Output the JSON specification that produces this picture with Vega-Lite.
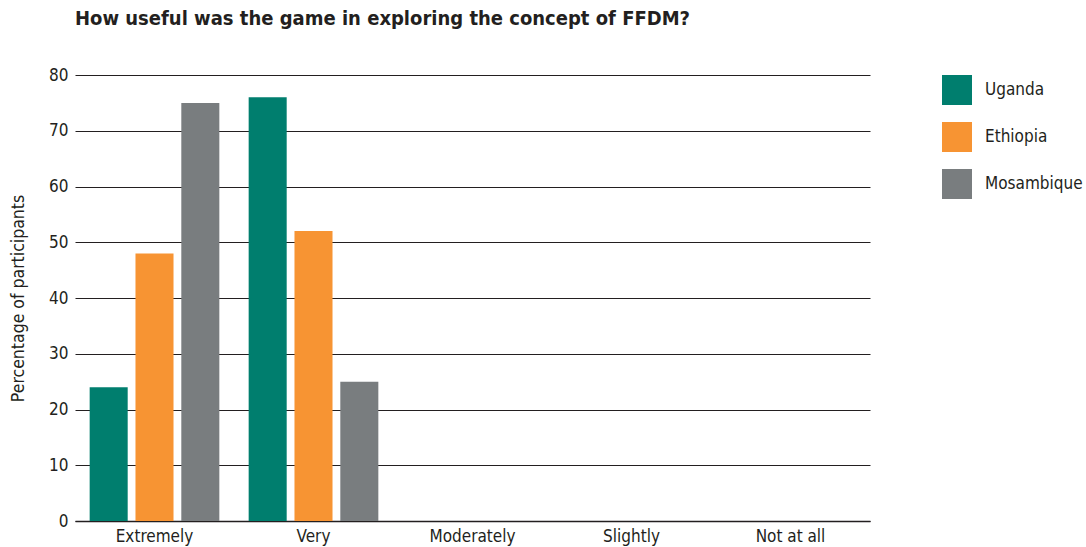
{
  "$schema": "https://vega.github.io/schema/vega-lite/v6.json",
  "autosize": {"type": "none"},
  "padding": {"left": 75, "top": 75, "right": 216, "bottom": 26},
  "width": 795,
  "height": 446,
  "background": "white",
  "title": {
    "text": "How useful was the game in exploring the concept of FFDM?",
    "anchor": "start",
    "frame": "group",
    "font": "DejaVu Sans Condensed, Liberation Sans Narrow, Roboto",
    "fontSize": 20,
    "fontWeight": "bold",
    "color": "#231f20",
    "offset": 37
  },
  "data": {
    "values": [
      {"usefulness": "Extremely", "country": "Uganda", "pct": 24},
      {"usefulness": "Extremely", "country": "Ethiopia", "pct": 48},
      {"usefulness": "Extremely", "country": "Mosambique", "pct": 75},
      {"usefulness": "Very", "country": "Uganda", "pct": 76},
      {"usefulness": "Very", "country": "Ethiopia", "pct": 52},
      {"usefulness": "Very", "country": "Mosambique", "pct": 25},
      {"usefulness": "Moderately", "country": "Uganda", "pct": 0},
      {"usefulness": "Moderately", "country": "Ethiopia", "pct": 0},
      {"usefulness": "Moderately", "country": "Mosambique", "pct": 0},
      {"usefulness": "Slightly", "country": "Uganda", "pct": 0},
      {"usefulness": "Slightly", "country": "Ethiopia", "pct": 0},
      {"usefulness": "Slightly", "country": "Mosambique", "pct": 0},
      {"usefulness": "Not at all", "country": "Uganda", "pct": 0},
      {"usefulness": "Not at all", "country": "Ethiopia", "pct": 0},
      {"usefulness": "Not at all", "country": "Mosambique", "pct": 0}
    ]
  },
  "mark": {"type": "bar"},
  "encoding": {
    "x": {
      "field": "usefulness",
      "type": "nominal",
      "sort": ["Extremely", "Very", "Moderately", "Slightly", "Not at all"],
      "scale": {"paddingInner": 0, "paddingOuter": 0},
      "axis": {
        "title": null,
        "labelAngle": 0,
        "labelFont": "DejaVu Sans Condensed, Liberation Sans Narrow, Roboto",
        "labelFontSize": 17,
        "labelColor": "#231f20",
        "labelPadding": 7,
        "ticks": false,
        "domain": true,
        "domainColor": "#231f20",
        "domainWidth": 1.5,
        "grid": false
      }
    },
    "xOffset": {
      "field": "country",
      "type": "nominal",
      "sort": ["Uganda", "Ethiopia", "Mosambique"],
      "scale": {"paddingInner": 0.17, "paddingOuter": 0.32}
    },
    "y": {
      "field": "pct",
      "type": "quantitative",
      "scale": {"domain": [0, 80]},
      "axis": {
        "title": "Percentage of participants",
        "titleFont": "DejaVu Sans Condensed, Liberation Sans Narrow, Roboto",
        "titleFontSize": 17.5,
        "titleFontWeight": "normal",
        "titleColor": "#231f20",
        "titlePadding": 21,
        "values": [0, 10, 20, 30, 40, 50, 60, 70, 80],
        "labelFont": "DejaVu Sans Condensed, Liberation Sans Narrow, Roboto",
        "labelFontSize": 17,
        "labelColor": "#231f20",
        "labelPadding": 7,
        "labelBound": false,
        "labelFlush": false,
        "ticks": false,
        "domain": false,
        "grid": true,
        "gridColor": "#231f20",
        "gridWidth": 1,
        "gridOpacity": 1
      }
    },
    "color": {
      "field": "country",
      "type": "nominal",
      "sort": ["Uganda", "Ethiopia", "Mosambique"],
      "scale": {
        "domain": ["Uganda", "Ethiopia", "Mosambique"],
        "range": ["#007e6e", "#f79433", "#797d7f"]
      },
      "legend": {
        "title": null,
        "orient": "none",
        "legendX": 867,
        "legendY": 0,
        "symbolType": "square",
        "symbolSize": 900,
        "symbolStrokeWidth": 0,
        "symbolOpacity": 1,
        "labelFont": "DejaVu Sans Condensed, Liberation Sans Narrow, Roboto",
        "labelFontSize": 17,
        "labelColor": "#231f20",
        "labelOffset": 13,
        "rowPadding": 17
      }
    }
  },
  "config": {
    "view": {"stroke": null}
  }
}
